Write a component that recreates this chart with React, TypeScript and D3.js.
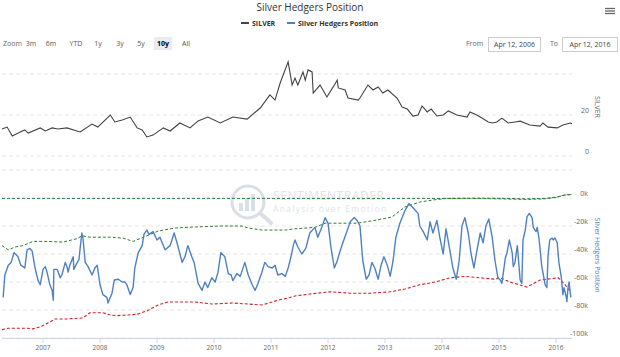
import React from 'react';
import * as d3 from 'd3';

const W = 620;
const H = 357;
const FONT = '"Open Sans", "DejaVu Sans", sans-serif';

// ---- data (decimal years) ----
const silverYears = [2006.28,2006.37,2006.46,2006.60,2006.68,2006.74,2006.95,2007.04,2007.16,2007.26,2007.42,2007.65,2007.86,2007.96,2008.18,2008.26,2008.39,2008.53,2008.65,2008.74,2008.82,2008.93,2009.11,2009.23,2009.40,2009.58,2009.72,2009.89,2010.11,2010.33,2010.58,2010.81,2010.98,2011.07,2011.16,2011.30,2011.37,2011.42,2011.47,2011.56,2011.60,2011.65,2011.72,2011.74,2011.86,2011.98,2012.09,2012.16,2012.18,2012.30,2012.35,2012.53,2012.56,2012.70,2012.79,2012.88,2012.96,2013.05,2013.21,2013.30,2013.39,2013.49,2013.58,2013.65,2013.74,2013.81,2013.91,2014.02,2014.11,2014.26,2014.44,2014.49,2014.61,2014.70,2014.81,2014.89,2014.96,2015.05,2015.16,2015.28,2015.37,2015.54,2015.72,2015.77,2015.86,2016.02,2016.12,2016.25,2016.28];
const silverValues = [13.2,14.1,9.8,11.7,12.7,11.2,13.7,12.2,13.7,13.2,13.7,11.7,15.6,14.1,20.0,16.6,17.6,19.0,13.7,12.7,9.3,10.2,13.7,12.2,16.1,13.7,17.1,19.0,16.1,19.0,18.0,23.4,29.8,27.3,35.6,45.9,34.6,38.0,34.6,41.0,37.0,42.0,41.0,30.7,34.6,28.8,33.7,37.0,33.2,32.2,28.3,27.3,28.3,34.6,32.2,33.7,30.7,32.2,28.3,23.9,22.9,19.5,20.0,24.4,21.5,22.9,19.5,20.0,22.0,20.0,19.0,21.5,20.0,18.5,16.6,16.1,16.6,18.5,16.1,16.6,17.0,15.1,14.6,16.1,14.1,13.7,15.1,16.1,15.8];

const hedgerYears = [2006.30,2006.33,2006.39,2006.44,2006.47,2006.49,2006.54,2006.56,2006.61,2006.65,2006.68,2006.72,2006.77,2006.81,2006.86,2006.91,2006.95,2007.00,2007.04,2007.07,2007.12,2007.16,2007.18,2007.19,2007.25,2007.30,2007.33,2007.39,2007.42,2007.44,2007.47,2007.53,2007.54,2007.60,2007.63,2007.68,2007.70,2007.74,2007.79,2007.86,2007.91,2007.95,2008.00,2008.05,2008.12,2008.14,2008.21,2008.25,2008.32,2008.39,2008.44,2008.47,2008.53,2008.58,2008.61,2008.67,2008.74,2008.77,2008.82,2008.86,2008.93,2009.00,2009.05,2009.14,2009.23,2009.30,2009.35,2009.44,2009.49,2009.54,2009.61,2009.65,2009.72,2009.79,2009.84,2009.89,2009.96,2010.02,2010.07,2010.12,2010.19,2010.25,2010.30,2010.33,2010.40,2010.46,2010.54,2010.60,2010.67,2010.72,2010.77,2010.84,2010.89,2010.95,2011.02,2011.07,2011.12,2011.19,2011.25,2011.30,2011.35,2011.39,2011.42,2011.47,2011.54,2011.61,2011.68,2011.77,2011.82,2011.88,2011.95,2012.00,2012.05,2012.11,2012.16,2012.21,2012.26,2012.33,2012.39,2012.46,2012.51,2012.56,2012.61,2012.67,2012.72,2012.77,2012.82,2012.88,2012.93,2012.98,2013.04,2013.09,2013.14,2013.19,2013.26,2013.35,2013.42,2013.49,2013.58,2013.61,2013.67,2013.74,2013.79,2013.84,2013.91,2013.96,2014.02,2014.07,2014.14,2014.19,2014.25,2014.30,2014.35,2014.40,2014.46,2014.51,2014.56,2014.61,2014.67,2014.72,2014.77,2014.82,2014.88,2014.93,2014.98,2015.02,2015.05,2015.11,2015.14,2015.18,2015.23,2015.25,2015.28,2015.32,2015.33,2015.37,2015.40,2015.42,2015.46,2015.49,2015.53,2015.58,2015.60,2015.65,2015.67,2015.70,2015.75,2015.81,2015.84,2015.86,2015.89,2015.93,2015.95,2015.98,2016.02,2016.05,2016.09,2016.12,2016.14,2016.18,2016.19,2016.21,2016.23,2016.25,2016.26];
const hedgerValues = [-71,-55,-48,-46,-42,-39,-41,-42,-48,-49,-50,-37,-36,-38,-50,-58.6,-62,-51,-49,-53,-62,-66,-73,-51,-51,-57,-55,-46,-49,-53,-48,-42,-51,-46,-44,-25,-28.6,-46,-49,-55,-50,-48,-62,-69,-71,-75,-68,-58.6,-58,-60,-60,-62,-69,-64,-50,-39,-34,-26,-23,-26,-24,-30,-28,-37,-34,-25,-32,-46,-42,-34,-42,-46,-61,-66,-60,-64,-57,-60,-53,-39,-42,-54,-55,-59,-54,-56,-46,-55,-62,-66,-61,-53,-46,-49,-50,-48,-55,-54,-56,-50,-42,-34,-30,-35,-40,-36,-25,-21,-28,-22,-14,-18,-35,-50,-45,-38,-32,-24,-17,-14,-16,-20,-45,-58,-55,-46,-50,-58,-48,-42,-48,-56,-45,-28,-18,-9,-4,-7,-11,-20,-24,-30,-17,-25,-16,-28,-40,-22,-38,-50,-58,-45,-20,-14,-25,-40,-50,-38,-25,-32,-20,-15,-28,-45,-57,-58.6,-61,-43,-39,-30,-39,-49,-46,-34,-38,-58.6,-61,-30,-23,-13.5,-11,-14,-21,-24,-21,-28.6,-49,-62,-64,-41,-30,-28.6,-30,-28.6,-32,-46,-56,-69,-64,-71,-74,-64,-60,-68,-71];

const upperBandYears = [2006.28,2006.39,2006.51,2006.65,2006.82,2007.07,2007.35,2007.60,2007.68,2007.82,2008.18,2008.40,2008.58,2008.82,2009.02,2009.32,2009.67,2010.14,2010.49,2010.60,2010.84,2011.25,2011.42,2011.77,2011.95,2012.26,2012.51,2012.86,2013.12,2013.35,2013.61,2013.84,2014.09,2014.50,2015.00,2015.50,2015.80,2016.00,2016.15,2016.28];
const upperBandValues = [-34,-37,-35,-34,-31,-31,-31.5,-29,-27,-28,-28,-28.6,-31,-27,-23.6,-21.4,-20.7,-20,-20,-21.4,-22.9,-22.9,-22,-21,-18,-18,-18,-15.7,-13.6,-6.4,-2.9,-1.4,-0.3,-0.3,-0.6,-1,-0.6,0.4,2,2.5];

const maxLineYears = [2006.28,2009.0,2012.0,2014.09,2014.50,2015.00,2015.50,2015.80,2016.00,2016.15,2016.28];
const maxLineValues = [-0.3,-0.3,-0.3,-0.3,-0.1,-0.2,-0.6,-0.3,0.6,2.2,2.6];

const lowerBandYears = [2006.28,2006.39,2006.54,2006.72,2006.82,2006.95,2007.12,2007.21,2007.42,2007.70,2007.82,2008.05,2008.18,2008.30,2008.47,2008.65,2008.82,2009.02,2009.19,2009.67,2009.96,2010.32,2010.84,2011.02,2011.12,2011.30,2011.42,2011.68,2012.04,2012.39,2012.74,2013.09,2013.35,2013.61,2013.88,2014.14,2014.40,2014.67,2014.93,2015.02,2015.19,2015.49,2015.72,2016.04,2016.16,2016.26];
const lowerBandValues = [-94,-93,-93,-93,-93.5,-92,-88.6,-86.4,-86.4,-85.7,-82,-82,-83.6,-84,-83.6,-83,-80.7,-76.4,-74.3,-74.3,-75.7,-75,-76.4,-74.3,-73,-71.4,-70,-68.6,-67,-68,-68,-67,-65,-62,-60,-57,-56,-57,-58,-57,-60,-63.6,-58.6,-57,-62,-67];

const xTickYears = [2007, 2008, 2009, 2010, 2011, 2012, 2013, 2014, 2015, 2016];
const silverGrid = [0, 20, 40];
const silverLabels = [0, 20];
const hedgerGrid = [20, 0, -20, -40, -60, -80, -100];
const hedgerLabels = [0, -20, -40, -60, -80, -100];
const rangeButtons = ['3m', '6m', 'YTD', '1y', '3y', '5y', '10y', 'All'];
const rangeButtonX = [31, 51, 76, 98, 120, 141, 163, 186];
const selectedRange = '10y';
const fromDate = 'Apr 12, 2006';
const toDate = 'Apr 12, 2016';

export default function App() {
  const x = d3.scaleLinear().domain([2006.28, 2016.28]).range([2, 572]);
  const yS = d3.scaleLinear().domain([0, 40]).range([156, 74]);
  const yH = d3.scaleLinear().domain([-100, 20]).range([338, 170]);

  const mk = (xs: number[], vs: number[], y: d3.ScaleLinear<number, number>) =>
    d3.line<number>().x((_, i) => x(xs[i])).y((v) => y(v))(vs) || '';

  const grey = '#666666';
  return (
    <svg width={W} height={H} style={{ position: 'absolute', left: 0, top: 0, background: '#fff', fontFamily: FONT }}>
      <rect x={0} y={0} width={W} height={H} fill="#fff" />
      {/* title */}
      <text x={310} y={11} textAnchor="middle" fontSize={10} fill="#333">Silver Hedgers Position</text>
      {/* legend */}
      <line x1={241} x2={249} y1={23} y2={23} stroke="#434348" strokeWidth={2} />
      <text x={252} y={25.5} fontSize={7} fontWeight="bold" fill="#333">SILVER</text>
      <line x1={287} x2={295} y1={23} y2={23} stroke="#4f81c2" strokeWidth={2} />
      <text x={298} y={25.5} fontSize={7} fontWeight="bold" fill="#333">Silver Hedgers Position</text>
      {/* hamburger */}
      {[8.5, 11, 13.5].map((yy) => (
        <line key={yy} x1={605} x2={615} y1={yy} y2={yy} stroke="#666" strokeWidth={1.3} />
      ))}
      {/* range selector */}
      <text x={3} y={46} fontSize={7} fill={grey}>Zoom</text>
      {rangeButtons.map((b, i) => (
        <g key={b}>
          {b === selectedRange && <rect x={rangeButtonX[i] - 9} y={37} width={18} height={13} fill="#e6ebf5" />}
          <text x={rangeButtonX[i]} y={46} fontSize={7} textAnchor="middle" fill={b === selectedRange ? '#000' : '#555'} fontWeight={b === selectedRange ? 'bold' : 'normal'}>{b}</text>
        </g>
      ))}
      <text x={466} y={46} fontSize={7} fill={grey}>From</text>
      <rect x={488.5} y={37.5} width={52} height={14} fill="#fff" stroke="#ccc" />
      <text x={514.5} y={47} fontSize={7} textAnchor="middle" fill="#444">{fromDate}</text>
      <text x={550} y={46} fontSize={7} fill={grey}>To</text>
      <rect x={562.5} y={37.5} width={55} height={14} fill="#fff" stroke="#ccc" />
      <text x={590} y={47} fontSize={7} textAnchor="middle" fill="#444">{toDate}</text>

      {/* grid top panel */}
      {silverGrid.map((g) => (
        <line key={'sg' + g} x1={2} x2={572} y1={yS(g)} y2={yS(g)} stroke="#e6e6e6" strokeDasharray="4,3" />
      ))}
      {silverLabels.map((g) => (
        <text key={'sl' + g} x={589} y={yS(g) - 2} fontSize={7} textAnchor="end" fill={grey}>{g}</text>
      ))}
      <text transform={`translate(595,107) rotate(90)`} fontSize={7} textAnchor="middle" fill={grey}>SILVER</text>

      {/* grid bottom panel */}
      {hedgerGrid.map((g) => (
        <line key={'hg' + g} x1={2} x2={572} y1={yH(g)} y2={yH(g)} stroke="#e6e6e6" strokeDasharray="4,3" />
      ))}
      {hedgerLabels.map((g) => (
        <text key={'hl' + g} x={588} y={yH(g) - 2} fontSize={7} textAnchor="end" fill={grey}>{g === 0 ? '0k' : `${g}k`}</text>
      ))}
      <text transform={`translate(595,255) rotate(90)`} fontSize={7} textAnchor="middle" fill="#4f81c2">Silver Hedgers Position</text>

      {/* watermark */}
      <g opacity={0.55}>
        <circle cx={248} cy={202} r={16} fill="none" stroke="#b9c6d3" strokeWidth={3} />
        <line x1={260} y1={213} x2={271} y2={223} stroke="#b9c6d3" strokeWidth={4} strokeLinecap="round" />
        <rect x={239} y={203} width={4} height={8} fill="#b9c6d3" />
        <rect x={245} y={198} width={4} height={13} fill="#b9c6d3" />
        <rect x={251} y={194} width={4} height={17} fill="#b9c6d3" />
        <text x={273} y={200} fontSize={12} letterSpacing={0.6} fill="#c5ced8">SENTIMENTRADER</text>
        <text x={273} y={212} fontSize={8.5} letterSpacing={1.3} fill="#c5ced8">Analysis over Emotion</text>
      </g>

      {/* x axis */}
      <line x1={2} x2={572} y1={338.5} y2={338.5} stroke="#ccd6eb" />
      {xTickYears.map((t) => (
        <g key={t}>
          <line x1={x(t)} x2={x(t)} y1={338.5} y2={343} stroke="#ccd6eb" />
          <text x={x(t)} y={350} fontSize={6.5} textAnchor="middle" fill={grey}>{t}</text>
        </g>
      ))}

      {/* series */}
      <path d={mk(silverYears, silverValues, yS)} fill="none" stroke="#434348" strokeWidth={1.1} />
      <path d={mk(maxLineYears, maxLineValues, yH)} fill="none" stroke="#2e7d32" strokeWidth={1} strokeDasharray="3,2" />
      <path d={mk(upperBandYears, upperBandValues, yH)} fill="none" stroke="#2e7d32" strokeWidth={1} strokeDasharray="3,2" />
      <path d={mk(lowerBandYears, lowerBandValues, yH)} fill="none" stroke="#cc2222" strokeWidth={1.1} strokeDasharray="3,2" />
      <path d={mk(hedgerYears, hedgerValues, yH)} fill="none" stroke="#4f81c2" strokeWidth={1.4} strokeLinejoin="round" />
    </svg>
  );
}
